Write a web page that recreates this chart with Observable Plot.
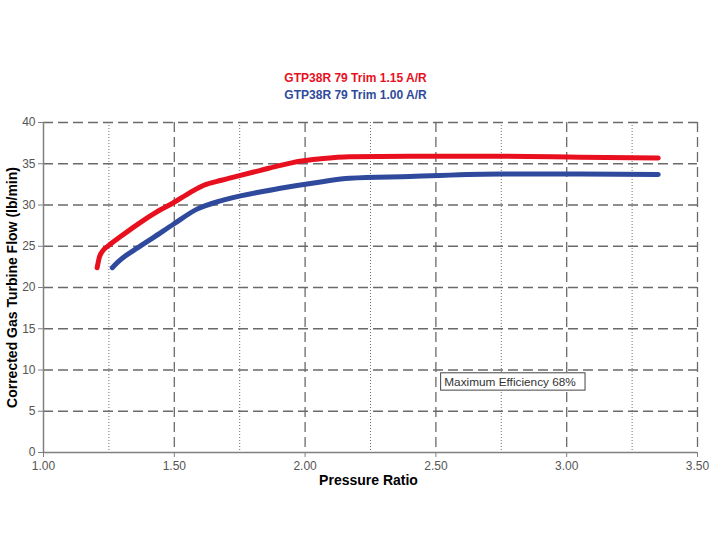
<!DOCTYPE html>
<html>
<head>
<meta charset="utf-8">
<script src="https://cdn.jsdelivr.net/npm/d3@7"></script>
<script src="https://cdn.jsdelivr.net/npm/@observablehq/plot@0.6"></script>
<style>
  html, body { margin: 0; padding: 0; background: #fff; }
  svg { display: block; }
</style>
</head>
<body>
<div id="chart"></div>
<script>
const seriesNames = ["GTP38R 79 Trim 1.15 A/R", "GTP38R 79 Trim 1.00 A/R"];
const seriesColors = ["#e8101e", "#2f4a9c"];

const redPR   = [1.205, 1.213, 1.228, 1.25, 1.30, 1.371, 1.43, 1.498, 1.56, 1.613, 1.68, 1.753, 1.83, 1.906, 1.98, 2.059, 2.17, 2.40, 2.75, 3.05, 3.35];
const redFlow = [22.4, 23.6, 24.5, 25.1, 26.3, 27.9, 29.1, 30.3, 31.5, 32.4, 33.0, 33.6, 34.2, 34.8, 35.3, 35.6, 35.85, 35.9, 35.9, 35.8, 35.7];

const bluePR   = [1.263, 1.285, 1.31, 1.345, 1.42, 1.498, 1.587, 1.677, 1.753, 1.90, 2.059, 2.17, 2.40, 2.75, 3.05, 3.35];
const blueFlow = [22.4, 23.1, 23.75, 24.5, 26.05, 27.7, 29.5, 30.5, 31.1, 32.0, 32.8, 33.25, 33.45, 33.75, 33.75, 33.7];

const xTicks = [1.0, 1.5, 2.0, 2.5, 3.0, 3.5];
const xMinor = [1.25, 1.75, 2.25, 2.75, 3.25];
const yTicks = [0, 5, 10, 15, 20, 25, 30, 35, 40];

const xLabel = "Pressure Ratio";
const yLabel = "Corrected Gas Turbine Flow (lb/min)";
const noteText = "Maximum Efficiency 68%";
const note = [{x1: 2.52, x2: 3.072, y1: 7.5, y2: 9.6, tx: 2.532, ty: 8.55}];

const red = redPR.map((x, i) => ({x, y: redFlow[i]}));
const blue = bluePR.map((x, i) => ({x, y: blueFlow[i]}));

const font = "Arial, 'Liberation Sans', sans-serif";

const chart = Plot.plot({
  width: 710,
  height: 550,
  marginTop: 122,
  marginLeft: 43,
  marginRight: 13,
  marginBottom: 98,
  style: {fontFamily: font, background: "#fff"},
  x: {domain: [1, 3.5]},
  y: {domain: [0, 40]},
  marks: [
    Plot.gridX(xMinor, {stroke: "#707070", strokeOpacity: 1, strokeWidth: 1, strokeDasharray: "1,2"}),
    Plot.gridX(xTicks.slice(1), {stroke: "#6a6a6a", strokeOpacity: 1, strokeWidth: 1.3, strokeDasharray: "10,5"}),
    Plot.gridY(yTicks.slice(1), {stroke: "#6a6a6a", strokeOpacity: 1, strokeWidth: 1.3, strokeDasharray: "10,5"}),
    Plot.ruleX([1], {stroke: "#808080", strokeWidth: 1.5}),
    Plot.ruleY([0], {stroke: "#808080", strokeWidth: 1.5}),
    Plot.axisX(xTicks, {tickFormat: d3.format(".2f"), tickSize: 5, tickPadding: 4, stroke: "#808080", fill: "#555", fontSize: 12, label: null}),
    Plot.axisY(yTicks, {tickSize: 5, tickPadding: 3, stroke: "#808080", fill: "#555", fontSize: 12, label: null}),
    Plot.line(red, {x: "x", y: "y", stroke: seriesColors[0], strokeWidth: 5, curve: "monotone-x"}),
    Plot.line(blue, {x: "x", y: "y", stroke: seriesColors[1], strokeWidth: 5, curve: "monotone-x"}),
    Plot.rect(note, {x1: "x1", x2: "x2", y1: "y1", y2: "y2", fill: "#fff", stroke: "#444", strokeWidth: 1}),
    Plot.text(note, {x: "tx", y: "ty", text: () => noteText, textAnchor: "start", fontSize: 11.8, fill: "#333"}),
    Plot.text([xLabel], {frameAnchor: "bottom", lineAnchor: "middle", dy: 28, dx: -2, text: d => d, fontSize: 14, fontWeight: "bold", fill: "#000"}),
    Plot.text([yLabel], {frameAnchor: "left", textAnchor: "middle", lineAnchor: "middle", dx: -31, rotate: -90, text: d => d, fontSize: 14, fontWeight: "bold", fill: "#000"}),
    Plot.text([seriesNames[0]], {frameAnchor: "top", lineAnchor: "middle", dy: -44, dx: -15, text: d => d, fontSize: 12, fontWeight: "bold", fill: seriesColors[0]}),
    Plot.text([seriesNames[1]], {frameAnchor: "top", lineAnchor: "middle", dy: -27, dx: -15, text: d => d, fontSize: 12, fontWeight: "bold", fill: seriesColors[1]})
  ]
});
document.getElementById("chart").appendChild(chart);
</script>
</body>
</html>
